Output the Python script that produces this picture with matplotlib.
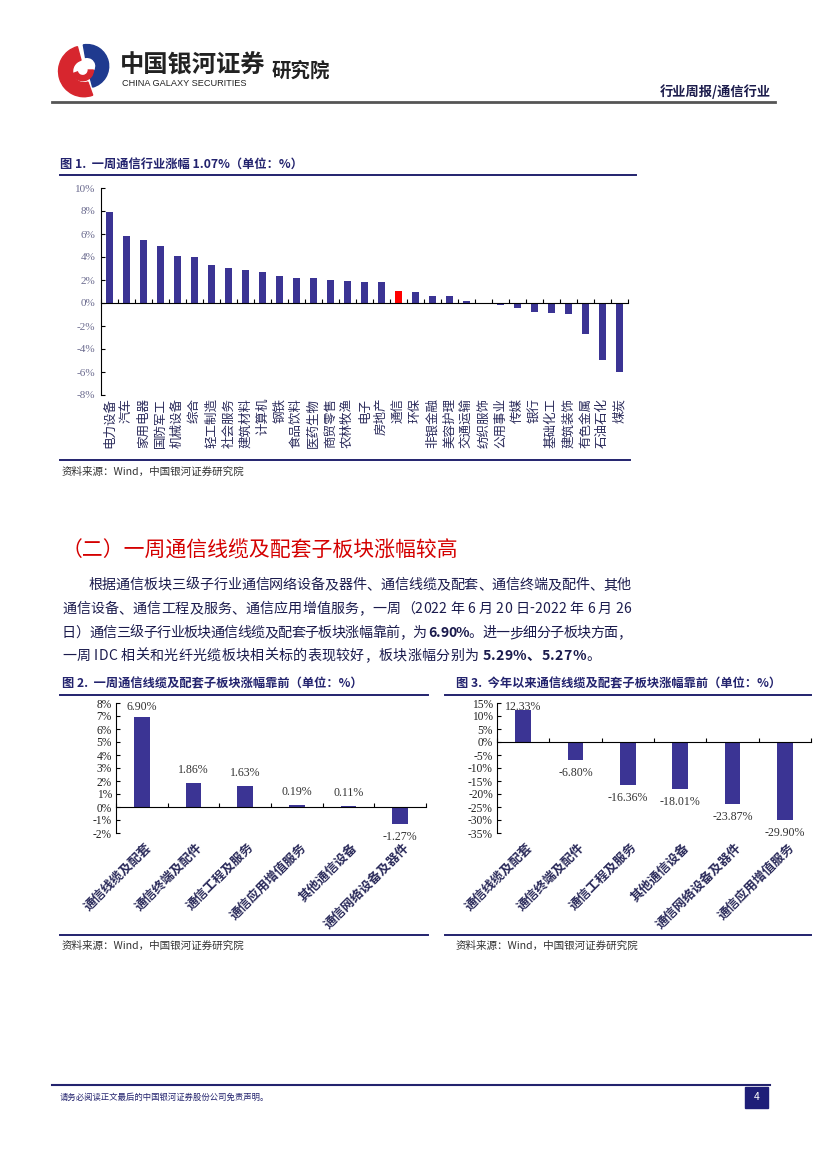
import numpy as np
import matplotlib
matplotlib.use('Agg')
import matplotlib.pyplot as plt
from matplotlib.patches import Wedge, Rectangle

plt.rcParams['font.family'] = ['Noto Sans CJK SC', 'DejaVu Sans']
plt.rcParams['axes.unicode_minus'] = False

W, H = 827, 1169
NAVY = '#23236e'
BAR = '#3b3494'
SERIF = ['Liberation Serif', 'Noto Sans CJK SC']

# ---- data ----
week_inds = ['电力设备', '汽车', '家用电器', '国防军工', '机械设备', '综合', '轻工制造',
             '社会服务', '建筑材料', '计算机', '钢铁', '食品饮料', '医药生物', '商贸零售',
             '农林牧渔', '电子', '房地产', '通信', '环保', '非银金融', '美容护理', '交通运输',
             '纺织服饰', '公用事业', '传媒', '银行', '基础化工', '建筑装饰', '有色金属',
             '石油石化', '煤炭']
week_chg = [7.95, 5.79, 5.48, 4.96, 4.09, 3.98, 3.31, 3.03, 2.88, 2.68, 2.39, 2.19, 2.16,
            2.02, 1.87, 1.82, 1.82, 1.07, 0.98, 0.63, 0.58, 0.20, 0.03, -0.20, -0.43,
            -0.77, -0.83, -0.97, -2.68, -4.99, -5.98]

sub_week = ['通信线缆及配套', '通信终端及配件', '通信工程及服务', '通信应用增值服务',
            '其他通信设备', '通信网络设备及器件']
sub_week_chg = [6.90, 1.86, 1.63, 0.19, 0.11, -1.27]

sub_ytd = ['通信线缆及配套', '通信终端及配件', '通信工程及服务', '其他通信设备',
           '通信网络设备及器件', '通信应用增值服务']
sub_ytd_chg = [12.33, -6.80, -16.36, -18.01, -23.87, -29.90]


def fx(x):
    return x / W


def fy(y):
    return 1 - y / H


def add_px(l, t, r, b):
    return fig.add_axes([l / W, 1 - b / H, (r - l) / W, (b - t) / H])


def hline(y, x0, x1, color=NAVY, lw=1.4):
    fig.add_artist(plt.Line2D([fx(x0), fx(x1)], [fy(y), fy(y)], color=color, lw=lw))


fig = plt.figure(figsize=(W / 100, H / 100), dpi=100)
renderer = fig.canvas.get_renderer()

# ---- header ----
logo = add_px(52, 42, 116, 98)
logo.set_xlim(-1.1, 1.1)
logo.set_ylim(-1.1, 1.1)
logo.set_aspect('equal')
logo.axis('off')
logo.add_patch(Wedge((0, -0.05), 1.0, 105, 290, width=0.55, color='#d7262e'))
logo.add_patch(Wedge((0.12, 0.15), 0.85, -75, 100, width=0.5, color='#1f3a8f'))
logo.add_patch(Wedge((-0.05, 0.0), 0.42, 200, 360, width=0.2, color='#d7262e'))

fig.text(fx(120), fy(66), '中国银河证券', fontsize=17.5, fontweight='bold', color='#222222', va='center')
fig.text(fx(122), fy(84), 'CHINA GALAXY SECURITIES', fontsize=6.6, color='#222222', va='center',
         family=['Liberation Sans', 'DejaVu Sans'])
fig.text(fx(272), fy(71), '研究院', fontsize=14, fontweight='bold', color='#222222', va='center')
fig.text(fx(771), fy(92), '行业周报/通信行业', fontsize=9.5, fontweight='bold', color='#1c1c4c',
         ha='right', va='center')
hline(102, 52, 775, color='#555555', lw=2)

# ---- figure 1 ----
fig.text(fx(60), fy(165), '图 1.  一周通信行业涨幅 1.07%（单位：%）', fontsize=8.8, fontweight='bold',
         color=NAVY, va='center')
hline(175, 60, 636)

ax1 = add_px(101, 188, 628, 395)
xs = np.arange(len(week_inds))
cols = ['#ff0000' if n == '通信' else BAR for n in week_inds]
ax1.bar(xs, week_chg, width=0.38, color=cols)
ax1.set_xlim(-0.5, len(week_inds) - 0.5)
ax1.set_ylim(-8, 10)
ax1.set_yticks(np.arange(-8, 11, 2))
ax1.set_yticklabels(['%d%%' % v for v in np.arange(-8, 11, 2)], family=SERIF, fontsize=8, color='#6a6a8e')
ax1.set_xticks(np.arange(-0.5, len(week_inds), 1))
ax1.set_xticklabels([])
ax1.tick_params(axis='x', direction='in', length=3, width=0.8)
ax1.tick_params(axis='y', direction='in', length=3, width=0.8, pad=4)
for s in ['top', 'right']:
    ax1.spines[s].set_visible(False)
ax1.spines['bottom'].set_position(('data', 0))
for i, n in enumerate(week_inds):
    ax1.text(i, -8.25, n, rotation=90, ha='center', va='top', fontsize=9, color='#2a2a5a',
             linespacing=1.0)
ax1.patch.set_alpha(0)

hline(460, 60, 630)
fig.text(fx(62), fy(472), '资料来源：Wind，中国银河证券研究院', fontsize=7.6, style='italic',
         color='#333333', va='center')

# ---- section text ----
fig.text(fx(62), fy(551), '（二）一周通信线缆及配套子板块涨幅较高', fontsize=15, color='#d40000', va='center')

TXT = '#1b1b4d'
BODY = 10.1


def draw_line(x, y, segs, right=None, size=BODY):
    # place char by char; spread evenly to the right margin when asked
    chars = [(c, b) for text, b in segs for c in text]
    items = []
    for c, b in chars:
        t = fig.text(0, fy(y), c, fontsize=size, color=TXT, va='center',
                     fontweight='bold' if b else 'normal')
        items.append((t, t.get_window_extent(renderer).width))
    gap = 0.0
    if right is not None:
        gap = (right - x - sum(w for _, w in items)) / (len(items) - 1)
    for t, w in items:
        t.set_x(fx(x))
        x += w + gap


draw_line(88, 585, [('根据通信板块三级子行业通信网络设备及器件、通信线缆及配套、通信终端及配件、其他', False)], right=631)
draw_line(62, 609, [('通信设备、通信工程及服务、通信应用增值服务，一周（2022 年 6 月 20 日-2022 年 6 月 26', False)], right=631)
draw_line(62, 633, [('日）通信三级子行业板块通信线缆及配套子板块涨幅靠前，为 ', False), ('6.90%', True),
                    ('。进一步细分子板块方面，', False)], right=631)
draw_line(62, 656, [('一周 IDC 相关和光纤光缆板块相关标的表现较好，板块涨幅分别为 ', False),
                    ('5.29%、5.27%', True), ('。', False)], right=600)


# ---- figures 2 & 3 ----
def sub_chart(box, cats, vals, lo, hi, step):
    ax = add_px(*box)
    xs = np.arange(len(cats))
    ax.bar(xs, vals, width=0.3, color=BAR)
    ax.set_xlim(-0.5, len(cats) - 0.5)
    ax.set_ylim(lo, hi)
    ticks = np.arange(lo, hi + 0.1, step)
    ax.set_yticks(ticks)
    ax.set_yticklabels(['%d%%' % v for v in ticks], family=SERIF, fontsize=8.3, color='#222222')
    ax.set_xticks(np.arange(-0.5, len(cats), 1))
    ax.set_xticklabels([])
    ax.tick_params(axis='x', direction='in', length=3, width=0.8)
    ax.tick_params(axis='y', direction='in', length=3, width=0.8, pad=3)
    for s in ['top', 'right']:
        ax.spines[s].set_visible(False)
    ax.spines['bottom'].set_position(('data', 0))
    per_px = (hi - lo) / (box[3] - box[1])
    for i, v in enumerate(vals):
        if v >= 0:
            yl = min(v + 13 * per_px, hi - 4 * per_px)
        else:
            yl = v - 13 * per_px
        ax.text(i, yl, '%.2f%%' % v, ha='center', va='center', family=SERIF,
                fontsize=8.6, color='#333333', clip_on=False)
    for i, n in enumerate(cats):
        ax.text(i + 0.05, lo, n, rotation=45, rotation_mode='anchor', ha='right', va='top',
                fontsize=9.2, fontweight='bold', color='#2a2a5a',
                transform=ax.transData + matplotlib.transforms.ScaledTranslation(0, -8 / 100, fig.dpi_scale_trans))
    ax.patch.set_alpha(0)
    return ax


fig.text(fx(62), fy(684), '图 2.  一周通信线缆及配套子板块涨幅靠前（单位：%）', fontsize=8.8,
         fontweight='bold', color=NAVY, va='center')
hline(695, 60, 428)
sub_chart((116, 703, 426, 833), sub_week, sub_week_chg, -2, 8, 1)
hline(935, 60, 428)
fig.text(fx(62), fy(946), '资料来源：Wind，中国银河证券研究院', fontsize=7.6, style='italic',
         color='#333333', va='center')

fig.text(fx(456), fy(684), '图 3.  今年以来通信线缆及配套子板块涨幅靠前（单位：%）', fontsize=8.8,
         fontweight='bold', color=NAVY, va='center')
hline(695, 445, 811)
sub_chart((497, 703, 811, 833), sub_ytd, sub_ytd_chg, -35, 15, 5)
hline(935, 445, 811)
fig.text(fx(456), fy(946), '资料来源：Wind，中国银河证券研究院', fontsize=7.6, style='italic',
         color='#333333', va='center')

# ---- footer ----
hline(1085, 52, 770, lw=1.5)
fig.text(fx(60), fy(1097), '请务必阅读正文最后的中国银河证券股份公司免责声明。', fontsize=6.0,
         color=NAVY, va='center')
fig.add_artist(Rectangle((fx(745), fy(1108)), (768 - 745) / W, (1108 - 1087) / H,
                         color='#1e1e78', transform=fig.transFigure))
fig.text(fx(756.5), fy(1097.5), '4', fontsize=7.5, color='white', ha='center', va='center')

fig.savefig('out.png', dpi=100)
